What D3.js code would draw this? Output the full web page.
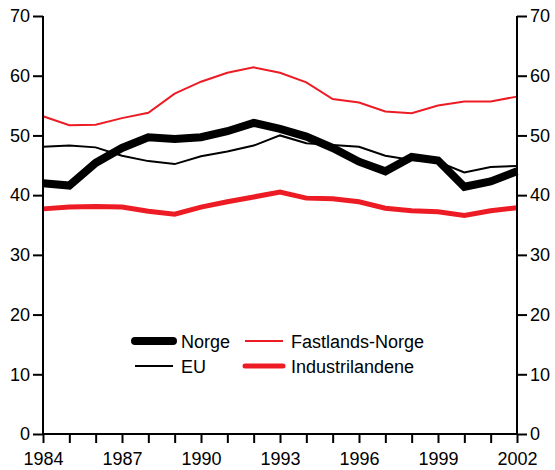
<!DOCTYPE html>
<html>
<head>
<meta charset="utf-8">
<script src="https://cdn.jsdelivr.net/npm/d3@7"></script>
<style>
  body { margin: 0; background: #fff; }
  text { font-family: "Liberation Sans", Arial, sans-serif; }
</style>
</head>
<body>
<div id="chart"></div>
<script>
// Data
var years = d3.range(1984, 2003);
var norge = [42.0, 41.6, 45.4, 47.9, 49.7, 49.4, 49.7, 50.7, 52.1, 51.1, 49.8, 47.9, 45.6, 44.0, 46.4, 45.8, 41.4, 42.3, 44.0];
var eu = [48.1, 48.3, 48.0, 46.6, 45.7, 45.2, 46.5, 47.3, 48.3, 50.0, 48.7, 48.4, 48.1, 46.6, 45.9, 45.6, 43.8, 44.7, 44.9];
var fastland = [53.2, 51.7, 51.8, 52.9, 53.8, 57.0, 59.0, 60.5, 61.4, 60.5, 58.9, 56.1, 55.5, 54.0, 53.7, 55.0, 55.7, 55.7, 56.5];
var industri = [37.7, 38.0, 38.1, 38.0, 37.3, 36.8, 38.0, 38.9, 39.7, 40.5, 39.5, 39.4, 38.9, 37.8, 37.4, 37.2, 36.6, 37.4, 37.9];
var yTicks = [0, 10, 20, 30, 40, 50, 60, 70];
var xLabels = [1984, 1987, 1990, 1993, 1996, 1999, 2002];

var red = "#ed1c24";
var series = [
  {name: "EU", values: eu, color: "#000", width: 2},
  {name: "Fastlands-Norge", values: fastland, color: red, width: 2},
  {name: "Industrilandene", values: industri, color: red, width: 5},
  {name: "Norge", values: norge, color: "#000", width: 8}
];

var width = 555, height = 470;
var x0 = 43, x1 = 517, yTop = 16, yBot = 434;

var x = d3.scaleLinear().domain([1984, 2002]).range([x0, x1]);
var y = d3.scaleLinear().domain([0, 70]).range([yBot, yTop]);

var svg = d3.select("#chart").append("svg")
  .attr("width", width)
  .attr("height", height);

// lines
var line = d3.line()
  .x(function(d, i) { return x(years[i]); })
  .y(function(d) { return y(d); });

svg.append("g").selectAll("path")
  .data(series)
  .enter().append("path")
  .attr("d", function(d) { return line(d.values); })
  .attr("fill", "none")
  .attr("stroke", function(d) { return d.color; })
  .attr("stroke-width", function(d) { return d.width; })
  .attr("stroke-linejoin", "miter");

// axes
var leftAxis = d3.axisLeft(y).tickValues(yTicks).tickSize(10).tickPadding(3);
var rightAxis = d3.axisRight(y).tickValues(yTicks).tickSize(10).tickPadding(3);
var bottomAxis = d3.axisBottom(x).ticks(18).tickSize(9).tickPadding(9)
  .tickFormat(function(d) { return xLabels.indexOf(d) >= 0 ? d : ""; });

function style(g) {
  g.select(".domain").remove();
  g.selectAll("line").attr("stroke", "#000").attr("stroke-width", 2);
  g.selectAll("text").attr("fill", "#000").style("font-size", "18px")
    .style("font-family", "'Liberation Sans', Arial, sans-serif");
}

svg.append("g").attr("transform", "translate(" + x0 + ",0)").call(leftAxis).call(style);
svg.append("g").attr("transform", "translate(" + x1 + ",0)").call(rightAxis).call(style);
svg.append("g").attr("transform", "translate(0," + yBot + ")").call(bottomAxis).call(style);

// axis lines
svg.append("line").attr("x1", x0).attr("x2", x0).attr("y1", yTop).attr("y2", yBot + 1)
  .attr("stroke", "#000").attr("stroke-width", 2);
svg.append("line").attr("x1", x1).attr("x2", x1).attr("y1", yTop).attr("y2", yBot + 1)
  .attr("stroke", "#000").attr("stroke-width", 2);
svg.append("line").attr("x1", x0).attr("x2", x1).attr("y1", yBot).attr("y2", yBot)
  .attr("stroke", "#000").attr("stroke-width", 2);

// legend
var legend = [
  {name: "Norge", color: "#000", width: 8, lx: 135, ly: 341},
  {name: "Fastlands-Norge", color: red, width: 2, lx: 245, ly: 341},
  {name: "EU", color: "#000", width: 2, lx: 135, ly: 366},
  {name: "Industrilandene", color: red, width: 5, lx: 245, ly: 366}
];
var lg = svg.append("g").selectAll("g").data(legend).enter().append("g")
  .attr("transform", function(d) { return "translate(" + d.lx + "," + d.ly + ")"; });
lg.append("line").attr("x1", 0).attr("x2", 38).attr("y1", 0).attr("y2", 0)
  .attr("stroke", function(d) { return d.color; })
  .attr("stroke-width", function(d) { return d.width; })
  .attr("stroke-linecap", function(d) { return d.width > 3 ? "round" : "butt"; });
lg.append("text").attr("x", 46).attr("y", 7).style("font-size", "18px")
  .text(function(d) { return d.name; });
</script>
</body>
</html>
